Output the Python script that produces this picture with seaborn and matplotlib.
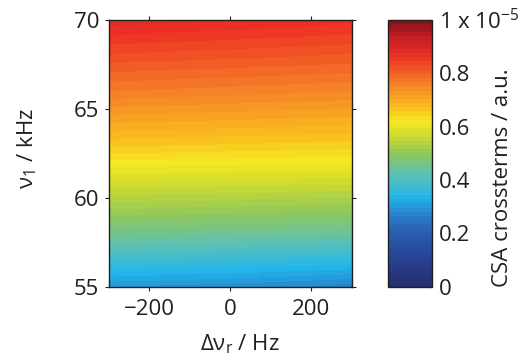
import numpy as np
import matplotlib
matplotlib.use("Agg")
import matplotlib.pyplot as plt
from matplotlib.colors import LinearSegmentedColormap
import seaborn as sns

# Spin-lock field strength (kHz) and resonance offset (Hz)
v1_khz = [55, 56, 57, 58, 59, 60, 61, 62, 63, 64, 65, 66, 67, 68, 69, 70]
offset_hz = [-300, 0, 300]

# CSA cross-term amplitude (units of 1e-5, a.u.) along each offset column
csa_neg = [0.295, 0.35, 0.403, 0.455, 0.50, 0.54, 0.58, 0.62, 0.66, 0.695, 0.73, 0.765, 0.795, 0.825, 0.855, 0.885]
csa_zero = [0.285, 0.34, 0.395, 0.448, 0.494, 0.535, 0.576, 0.616, 0.655, 0.69, 0.724, 0.758, 0.788, 0.818, 0.847, 0.876]
csa_pos = [0.27, 0.327, 0.384, 0.44, 0.487, 0.53, 0.572, 0.612, 0.65, 0.684, 0.718, 0.75, 0.78, 0.81, 0.838, 0.866]

cbar_ticks = [0, 0.2, 0.4, 0.6, 0.8, 1.0]
cbar_ticklabels = ["0", "0.2", "0.4", "0.6", "0.8", r"1 x 10$^{-5}$"]

sns.set_style("ticks")
plt.rcParams["font.family"] = ["Open Sans", "DejaVu Sans"]
plt.rcParams["mathtext.fontset"] = "custom"
plt.rcParams["mathtext.rm"] = "Open Sans"
plt.rcParams["mathtext.it"] = "Open Sans:italic"
plt.rcParams["mathtext.default"] = "rm"

ink = "#231f20"
fs = 16

# Softened jet colour scale
anchors = [
    (0.00, (38, 45, 110)),
    (0.10, (40, 65, 145)),
    (0.20, (42, 92, 172)),
    (0.27, (40, 128, 202)),
    (0.34, (35, 182, 235)),
    (0.42, (92, 192, 182)),
    (0.50, (142, 200, 92)),
    (0.58, (215, 222, 42)),
    (0.62, (245, 232, 35)),
    (0.68, (250, 185, 30)),
    (0.76, (245, 130, 40)),
    (0.86, (238, 52, 36)),
    (0.93, (200, 30, 35)),
    (1.00, (130, 20, 25)),
]
cmap = LinearSegmentedColormap.from_list(
    "soft_jet", [(p, tuple(c / 255 for c in rgb)) for p, rgb in anchors]
)

X, Y = np.meshgrid(offset_hz, v1_khz)
Z = np.column_stack([csa_neg, csa_zero, csa_pos])

fig = plt.figure(figsize=(5.18, 3.60), dpi=100)
ax = fig.add_axes([0.2104, 0.2028, 0.4691, 0.743])
cax = fig.add_axes([0.749, 0.2028, 0.085, 0.743])

levels = np.linspace(0, 1, 65)
cs = ax.contourf(X, Y, Z, levels=levels, cmap=cmap, vmin=0, vmax=1)

ax.set_xlim(-300, 300)
ax.set_ylim(55, 70)
ax.set_xticks([-200, 0, 200])
ax.set_xticklabels(["\u2212200", "0", "200"])
ax.set_yticks([55, 60, 65, 70])
ax.tick_params(direction="out", length=3, width=0.8, labelsize=fs, colors=ink,
               top=True, right=True)
ax.tick_params(axis="x", pad=6)
ax.tick_params(axis="y", pad=4)
for s in ax.spines.values():
    s.set_linewidth(1.0)
    s.set_color(ink)

fig.text(27 / 518, 1 - 148 / 360, r"$\nu_1$ / kHz", rotation=90, fontsize=fs,
         color=ink, ha="center", va="center")
fig.text(240 / 518, 1 - 344 / 360, r"$\Delta\nu_r$ / Hz", fontsize=fs,
         color=ink, ha="center", va="center")

cb = fig.colorbar(cs, cax=cax, ticks=cbar_ticks)
cb.ax.set_yticklabels(cbar_ticklabels)
cb.ax.tick_params(direction="in", length=3, width=0.8, labelsize=fs, colors=ink, pad=5)
cb.outline.set_linewidth(1.0)
cb.outline.set_edgecolor(ink)
fig.text(503 / 518, 1 - 178 / 360, "CSA crossterms / a.u.", rotation=90,
         fontsize=fs, color=ink, ha="center", va="center")

fig.savefig("out.png", dpi=100, facecolor="white")
